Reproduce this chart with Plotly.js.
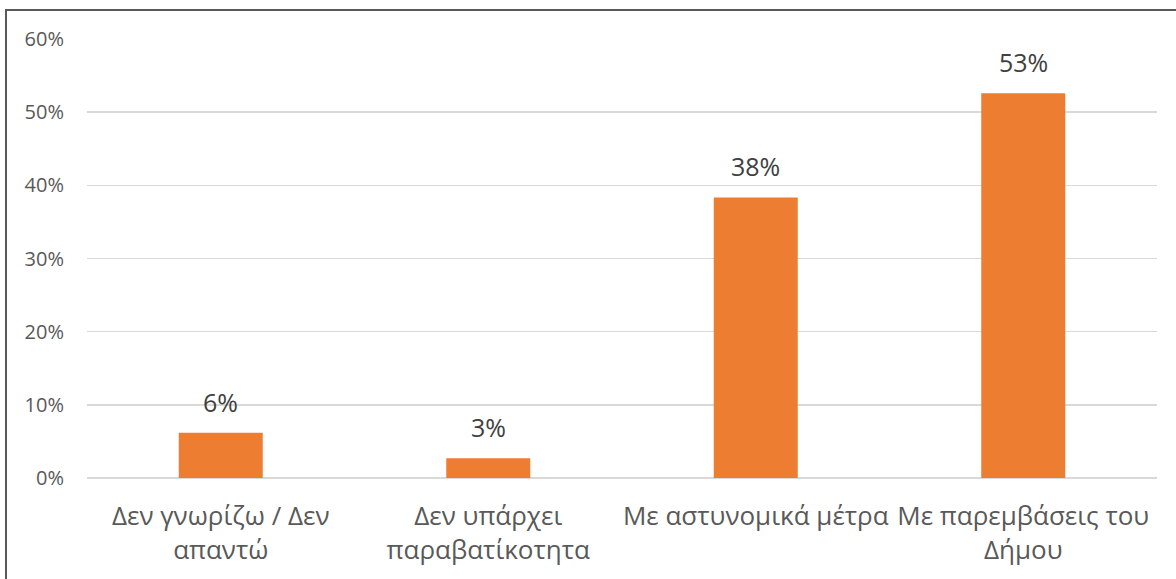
<!DOCTYPE html>
<html>
<head>
<meta charset="utf-8">
<script src="https://cdn.plot.ly/plotly-3.0.1.min.js"></script>
<style>
html,body{margin:0;padding:0;background:#fff;overflow:hidden;}
#chart{position:absolute;left:0;top:0;width:1176px;height:579px;}
#frame{position:absolute;left:5px;top:9px;width:1200px;height:600px;border:2px solid #595959;pointer-events:none;}
</style>
</head>
<body>
<div id="chart"></div>
<div id="frame"></div>
<script>
const categories = ["Δεν γνωρίζω / Δεν<br>απαντώ", "Δεν υπάρχει<br>παραβατίκοτητα", "Με αστυνομικά μέτρα", "Με παρεμβάσεις του<br>Δήμου"];
const values = [0.062, 0.027, 0.3835, 0.526];
const valueLabels = ["6%", "3%", "38%", "53%"];
const yTickVals = [0, 0.1, 0.2, 0.3, 0.4, 0.5, 0.6];
const yTickText = ["0%", "10%", "20%", "30%", "40%", "50%", "60%"];

const FONT = "Open Sans, Noto Sans, sans-serif";
const trace = {
  type: "bar",
  x: categories,
  y: values,
  marker: {color: "#ED7D31"},
  hoverinfo: "none"
};
const annotations = categories.map((c, i) => ({
  x: c, y: values[i], xref: "x", yref: "y",
  text: valueLabels[i], showarrow: false, yanchor: "bottom", yshift: 12,
  font: {family: FONT, size: 25, color: "#404040"}
}));
const layout = {
  width: 1176, height: 579,
  margin: {l: 87, r: 19, t: 39, b: 101},
  paper_bgcolor: "#fff", plot_bgcolor: "#fff",
  showlegend: false,
  bargap: 0.686,
  xaxis: {
    type: "category",
    tickfont: {family: FONT, size: 26, color: "#595959"},
    showgrid: false, zeroline: false, showline: false, ticks: "",
    ticklabelstandoff: 20
  },
  yaxis: {
    range: [0, 0.6],
    tickvals: yTickVals, ticktext: yTickText,
    tickfont: {family: FONT, size: 20, color: "#595959"},
    showgrid: true, gridcolor: "#d9d9d9", gridwidth: 1.5,
    zeroline: true, zerolinecolor: "#d9d9d9", zerolinewidth: 1.5,
    showline: false, ticks: "",
    ticklabelstandoff: 22
  },
  annotations: annotations
};
Plotly.newPlot("chart", [trace], layout, {displayModeBar: false, staticPlot: true});
</script>
</body>
</html>
